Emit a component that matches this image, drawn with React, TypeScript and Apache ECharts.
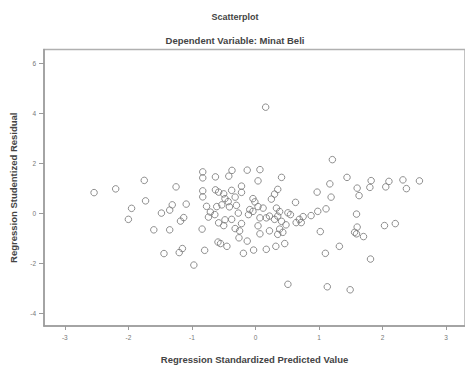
import React, { useEffect, useRef } from 'react';
import * as echarts from 'echarts';

const TITLE = 'Scatterplot';
const SUBTITLE = 'Dependent Variable: Minat Beli';
const X_NAME = 'Regression Standardized Predicted Value';
const Y_NAME = 'Regression Studentized Residual';
const X_TICKS = [-3, -2, -1, 0, 1, 2, 3];
const Y_TICKS = [-4, -2, 0, 2, 4, 6];

const predicted = [
  -2.54, -2.2, -1.75, -1.73, -1.95, -2.0, -1.25, -1.48, -1.35, -1.31, -1.09, -1.6, -1.35, -1.18, -1.13,
  -1.44, -1.2, -1.15, -0.97, -0.83, -0.83, -0.63, -0.42, -0.37, -0.13, 0.07, 0.04, -0.83, -0.83, -0.63,
  -0.22, -0.22, -0.58, -0.5, -0.48, -0.375, -0.32, -0.43, -0.04, -0.01, 0.04, -0.77, -0.71, -0.74, -0.61,
  -0.53, -0.3, -0.27, -0.64, -0.58, -0.48, -0.5, -0.375, -0.32, -0.22, -0.25, -0.11, -0.09, -0.04, 0.07,
  -0.84, -0.59, -0.55, -0.45, -0.26, -0.13, -0.8, -0.19, -0.03, 0.04, 0.07, -0.41, 0.16, 0.41, 0.35,
  0.3, 0.25, 0.63, 0.97, 1.17, 1.19, 1.11, 0.98, 0.875, 0.12, 0.33, 0.35, 0.38, 0.3, 0.41,
  0.51, 0.55, 0.22, 0.17, 0.69, 0.72, 0.64, 0.75, 1.02, 0.22, 0.38, 0.43, 0.48, 0.35, 0.17,
  0.32, 0.46, 1.1, 1.32, 0.51, 1.13, 1.21, 1.44, 1.82, 1.8, 2.1, 2.05, 2.32, 2.375, 2.58,
  1.6, 1.63, 1.59, 1.6, 1.56, 1.59, 1.7, 2.03, 2.2, 1.81, 1.49,
];

const residual = [
  0.84, 0.99, 1.33, 0.51, 0.21, -0.23, 1.07, 0.02, 0.14, 0.35, 0.38, -0.65, -0.65, -0.3, -0.16,
  -1.6, -1.56, -1.4, -2.06, 1.67, 1.43, 1.47, 1.5, 1.73, 1.74, 1.76, 1.31, 0.91, 0.67, 0.95,
  1.1, 0.85, 0.86, 0.79, 0.6, 0.93, 0.66, 0.48, 0.6, 0.47, 0.28, 0.29, 0.06, -0.14, 0.28,
  0.35, 0.33, 0.02, -0.04, -0.37, -0.25, -0.48, -0.23, -0.6, -0.4, -0.69, -0.04, 0.16, 0.09, -0.17,
  -0.62, -1.14, -1.2, -1.31, -0.97, -1.1, -1.47, -1.59, -1.46, -0.49, -0.81, 0.27, 4.26, 1.45, 0.97,
  0.78, 0.58, 0.45, 0.86, 1.19, 0.66, 0.19, 0.09, -0.08, 0.22, 0.22, -0.1, 0.08, -0.23, -0.31,
  0.03, -0.04, -0.1, -0.17, -0.23, -0.36, -0.36, -0.12, -0.72, -0.69, -0.62, -0.75, -0.45, -0.83, -1.43,
  -1.31, -1.2, -1.59, -1.31, -2.83, -2.93, 2.16, 1.45, 1.32, 1.05, 1.29, 1.07, 1.35, 1.0, 1.31,
  1.02, 0.72, -0.02, -0.54, -0.75, -0.81, -0.92, -0.48, -0.4, -1.82, -3.05,
];

const FONT = '"Liberation Sans", Arial, sans-serif';

export default function App() {
  const ref = useRef<HTMLDivElement>(null);
  useEffect(() => {
    if (!ref.current) return;
    const chart = echarts.init(ref.current, null, { renderer: 'svg' });
    const data = predicted.map((x, i) => [x, residual[i]]);
    const axisLineStyle = { color: '#9a9a9a', width: 1.5 };
    chart.setOption({
      animation: false,
      backgroundColor: '#ffffff',
      graphic: [
        {
          type: 'text',
          x: 235,
          y: 17,
          style: {
            text: TITLE,
            textAlign: 'center',
            textVerticalAlign: 'middle',
            font: `bold 9px ${FONT}`,
            fill: '#444',
          },
        },
        {
          type: 'text',
          x: 235,
          y: 40,
          style: {
            text: SUBTITLE,
            textAlign: 'center',
            textVerticalAlign: 'middle',
            font: `bold 9.5px ${FONT}`,
            fill: '#444',
          },
        },
      ],
      grid: {
        left: 42,
        top: 49.5,
        width: 424,
        height: 285.5,
        show: true,
        borderColor: '#b0b0b0',
        borderWidth: 1.5,
        backgroundColor: 'transparent',
      },
      xAxis: {
        type: 'value',
        min: -3.328,
        max: 3.297,
        name: X_NAME,
        nameLocation: 'middle',
        nameGap: 28,
        nameTextStyle: { fontFamily: FONT, fontWeight: 'bold', fontSize: 9.5, color: '#444' },
        axisLine: { show: true, onZero: false, lineStyle: axisLineStyle },
        axisTick: { show: true, length: 4, customValues: X_TICKS, lineStyle: { color: '#9a9a9a', width: 1 } },
        axisLabel: { customValues: X_TICKS, fontSize: 6.5, color: '#777', margin: 8, fontFamily: FONT },
        splitLine: { show: false },
      },
      yAxis: {
        type: 'value',
        min: -4.5,
        max: 6.57,
        name: Y_NAME,
        nameLocation: 'middle',
        nameGap: 26,
        nameRotate: 90,
        nameTextStyle: { fontFamily: FONT, fontWeight: 'bold', fontSize: 9.5, color: '#444' },
        axisLine: { show: true, onZero: false, lineStyle: axisLineStyle },
        axisTick: { show: true, length: 5, customValues: Y_TICKS, lineStyle: { color: '#9a9a9a', width: 1 } },
        axisLabel: { customValues: Y_TICKS, fontSize: 6.5, color: '#777', margin: 8, fontFamily: FONT },
        splitLine: { show: false },
      },
      series: [
        {
          type: 'scatter',
          data,
          symbol: 'circle',
          symbolSize: 6.5,
          itemStyle: { color: 'rgba(0,0,0,0)', borderColor: '#7a7a7a', borderWidth: 1, opacity: 0.85 },
          emphasis: { disabled: true },
        },
      ],
    });
    return () => chart.dispose();
  }, []);
  return (
    <div
      ref={ref}
      style={{ position: 'absolute', left: 0, top: 0, width: 465, height: 369, background: '#fff' }}
    />
  );
}
